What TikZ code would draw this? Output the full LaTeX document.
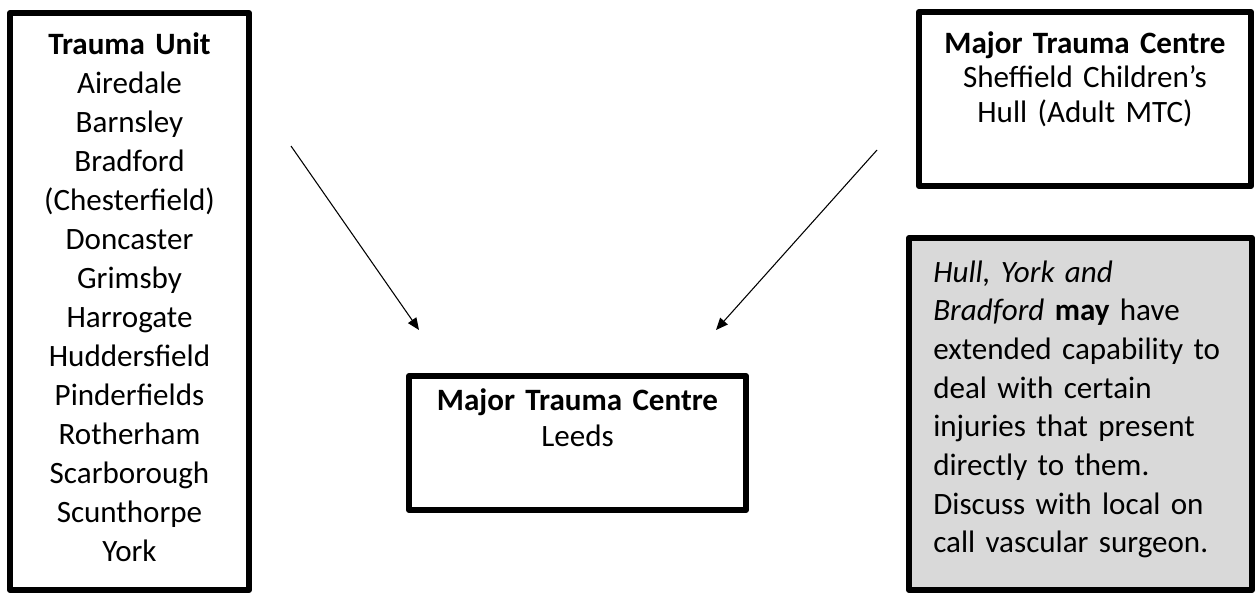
\documentclass[tikz,border=0pt]{standalone}
\usepackage{fontspec}
\setmainfont{Carlito}
\usetikzlibrary{arrows.meta}

\tikzset{
  panel/.style={draw=black, line width=4.5pt, line join=round, rectangle, inner sep=0pt},
  greypanel/.style={panel, fill=black!15},
  txt/.style={inner sep=0pt, anchor=base, font=\fontsize{23.3}{29.25}\selectfont},
  link/.style={line width=0.8pt, -{Triangle[length=9pt, width=7.5pt]}}
}

\begin{document}
\begin{tikzpicture}[x=0.75pt, y=-0.75pt]
  \useasboundingbox (0,0) rectangle (1255,594);

  % boxes
  \node[panel, minimum width=179.25pt, minimum height=432.75pt] (units) at (129.5,301.5) {};
  \node[panel, minimum width=249pt, minimum height=130.5pt] (mtcnorth) at (1085,99) {};
  \node[greypanel, minimum width=257.25pt, minimum height=264pt] (note) at (1080.5,414) {};
  \node[panel, minimum width=252.75pt, minimum height=100.5pt] (leeds) at (577.5,443) {};

  % trauma units
  \node[txt, text width=179pt, align=center] (unitstext) at (129.5,54)
    {\textbf{Trauma Unit}\\Airedale\\Barnsley\\Bradford\\(Chesterfield)\\Doncaster\\Grimsby\\Harrogate\\Huddersfield\\Pinderfields\\Rotherham\\Scarborough\\Scunthorpe\\York};

  % other major trauma centres
  \node[txt, text width=249pt, align=center, font=\fontsize{23.3}{25.9}\selectfont] (mtcnorthtext) at (1085,53)
    {\textbf{Major Trauma Centre}\\Sheffield Children’s\\Hull (Adult MTC)};

  % Leeds
  \node[txt, text width=252pt, align=center, font=\fontsize{23.3}{27}\selectfont] (leedstext) at (577.5,410)
    {\textbf{Major Trauma Centre}\\Leeds};

  % note
  \node[txt, text width=240pt, align=left, anchor=base west, font=\fontsize{23.3}{29}\selectfont] (notetext) at (933,282)
    {\textit{Hull, York and}\\\textit{Bradford} \textbf{may} have\\extended capability to\\deal with certain\\injuries that present\\directly to them.\\Discuss with local on\\call vascular surgeon.};

  % arrows towards Leeds
  \coordinate (fromunits) at (291,146);
  \coordinate (tounits) at (419,330);
  \coordinate (fromnorth) at (877,150);
  \coordinate (tonorth) at (716,330);
  \draw[link] (fromunits) -- (tounits);
  \draw[link] (fromnorth) -- (tonorth);
\end{tikzpicture}
\end{document}
